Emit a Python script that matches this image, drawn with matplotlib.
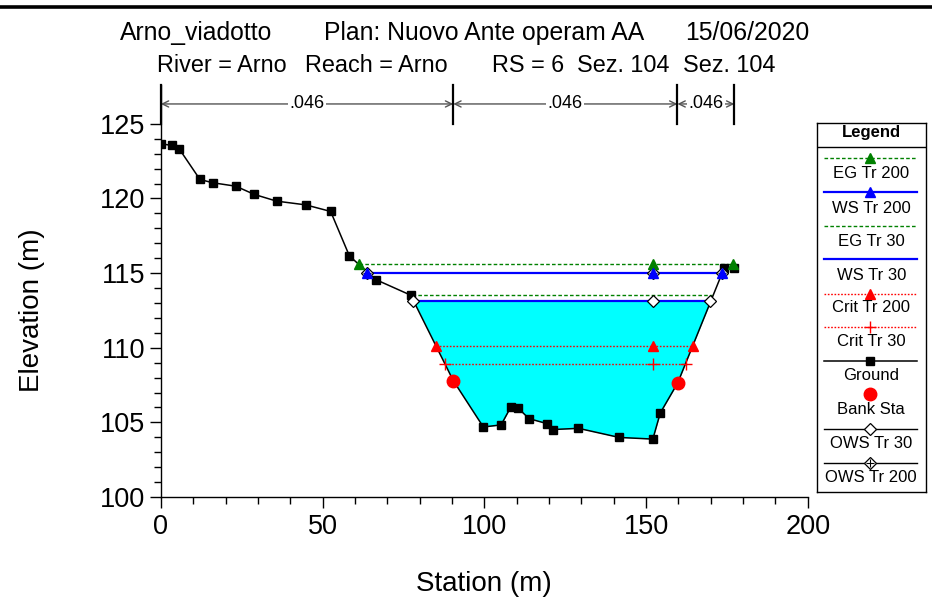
import matplotlib
matplotlib.use('Agg')
import matplotlib.pyplot as plt
from matplotlib.lines import Line2D
import numpy as np

plt.rcParams['font.family'] = ['Liberation Sans', 'DejaVu Sans']

# ---------------- data ----------------
ground_sta = [0.0, 3.55, 5.7, 12.1, 16.1, 23.2, 28.9, 35.8, 44.8, 52.5, 58.3, 66.4,
              77.25, 90.4, 99.7, 105.2, 108.2, 110.3, 113.8, 119.3, 121.3, 129.1,
              141.7, 152.1, 154.4, 159.8, 174.1, 177.3]
ground_elev = [123.66, 123.55, 123.32, 121.27, 121.05, 120.82, 120.27, 119.82, 119.57,
               119.13, 116.15, 114.57, 113.52, 107.8, 104.69, 104.83, 106.03, 105.99,
               105.25, 104.92, 104.52, 104.6, 103.99, 103.88, 105.63, 107.65, 115.31, 115.33]
bank_sta = [90.4, 159.8]
bank_elev = [107.8, 107.65]

eg200_sta = [61.4, 152.1, 177.0]
eg200_elev = 115.58
ws200_sta = [63.8, 152.1, 173.5]
ws200_elev = 115.01
eg30_sta = [77.6, 170.5]
eg30_elev = 113.54
ws30_sta = [78.1, 152.1, 169.9]
ws30_elev = 113.12
crit200_sta = [85.0, 152.1, 164.5]
crit200_elev = 110.12
crit30_sta = [87.7, 152.1, 162.2]
crit30_elev = 108.94

n_sta = [0.0, 90.4, 159.7, 177.3]
n_vals = ['.046', '.046', '.046']

title_line1 = ['Arno_viadotto', 'Plan: Nuovo Ante operam AA', '15/06/2020']
title_line2 = ['River = Arno', 'Reach = Arno', 'RS = 6', 'Sez. 104', 'Sez. 104']

# ---------------- styles ----------------
GREEN = '#008000'
BLUE = '#0000ff'
RED = '#ff0000'
CYAN = '#00ffff'
EG_LS = (0, (2.6, 1.6))
CR_LS = (0, (1.2, 1.2))

styles = {
    'EG Tr 200': dict(color=GREEN, ls=EG_LS, lw=1.0, marker='^', ms=6.5, mfc=GREEN, mec=GREEN),
    'WS Tr 200': dict(color=BLUE, ls='-', lw=1.6, marker='^', ms=6.5, mfc=BLUE, mec=BLUE),
    'EG Tr 30': dict(color=GREEN, ls=EG_LS, lw=1.0, marker=None),
    'WS Tr 30': dict(color=BLUE, ls='-', lw=1.6, marker=None),
    'Crit Tr 200': dict(color=RED, ls=CR_LS, lw=1.0, marker='^', ms=6.5, mfc=RED, mec=RED),
    'Crit Tr 30': dict(color=RED, ls=CR_LS, lw=1.0, marker='+', ms=8, mew=1.0, mec=RED),
    'Ground': dict(color='black', ls='-', lw=1.1, marker='s', ms=5.8, mfc='black', mec='black'),
    'Bank Sta': dict(color=RED, ls='none', marker='o', ms=9, mfc=RED, mec=RED),
    'OWS Tr 30': dict(color='black', ls='-', lw=1.0, marker='D', ms=6, mfc='white', mec='black', mew=0.9),
    'OWS Tr 200': dict(color='black', ls='-', lw=1.0, marker='D', ms=6, mfc='white', mec='black', mew=0.9),
}

# ---------------- figure ----------------
W, H = 932, 605
fig = plt.figure(figsize=(W / 100, H / 100), dpi=100)
fig.patch.set_facecolor('white')

ax_left, ax_right, ax_bot, ax_top = 160.8, 807.8, 497.0, 85.0
ax = fig.add_axes([ax_left / W, (H - ax_bot) / H, (ax_right - ax_left) / W, (ax_bot - ax_top) / H])
ax.set_xlim(0, 200)
ax.set_ylim(100, 127.6)

# fill of WS Tr 30
gs = np.array(ground_sta)
ge = np.array(ground_elev)
ax.fill_between(gs, ge, ws30_elev, where=ge <= ws30_elev, interpolate=True,
                color=CYAN, lw=0, zorder=1)


def draw_profile(sta, elev, key, z=3):
    st = styles[key]
    xs = [sta[0], sta[-1]]
    ys = [elev, elev]
    ax.plot(xs, ys, color=st['color'], ls=st['ls'], lw=st['lw'], zorder=z)
    if st.get('marker'):
        ax.plot(sta, [elev] * len(sta), ls='none', marker=st['marker'], ms=st['ms'],
                mfc=st.get('mfc', st['color']), mec=st.get('mec', st['color']),
                mew=st.get('mew', 1.0), zorder=z + 4)


draw_profile(eg200_sta, eg200_elev, 'EG Tr 200')
draw_profile(eg30_sta, eg30_elev, 'EG Tr 30')
draw_profile(crit200_sta, crit200_elev, 'Crit Tr 200')
draw_profile(crit30_sta, crit30_elev, 'Crit Tr 30')

# OWS markers (under WS markers)
ows = styles['OWS Tr 30']
ax.plot(ws30_sta, [ws30_elev] * len(ws30_sta), ls='none', marker='D', ms=ows['ms'],
        mfc='white', mec='black', mew=ows['mew'], zorder=6)
ax.plot(ws200_sta, [ws200_elev] * len(ws200_sta), ls='none', marker='D', ms=ows['ms'],
        mfc='white', mec='black', mew=ows['mew'], zorder=6)
ax.plot(ws200_sta, [ws200_elev] * len(ws200_sta), ls='none', marker='+', ms=ows['ms'],
        mec='black', mew=0.8, zorder=6)

draw_profile(ws200_sta, ws200_elev, 'WS Tr 200')
draw_profile(ws30_sta, ws30_elev, 'WS Tr 30')

g = styles['Ground']
ax.plot(ground_sta, ground_elev, color=g['color'], lw=g['lw'], marker='s', ms=g['ms'],
        mfc='black', mec='black', zorder=5)
b = styles['Bank Sta']
ax.plot(bank_sta, bank_elev, ls='none', marker='o', ms=b['ms'], mfc=RED, mec=RED, zorder=9)

# Manning's n bars
n_bar_bottom, n_bar_top, n_arrow_y = 124.98, 127.6, 126.33
for s in n_sta:
    ax.plot([s, s], [n_bar_bottom, n_bar_top], color='black', lw=1.6, zorder=4, clip_on=False)
for i, v in enumerate(n_vals):
    x0, x1 = n_sta[i], n_sta[i + 1]
    ax.annotate('', xy=(x0, n_arrow_y), xytext=(x1, n_arrow_y),
                arrowprops=dict(arrowstyle='<->,head_length=0.45,head_width=0.22',
                                color='#555555', lw=1.0, shrinkA=0, shrinkB=0),
                zorder=3, annotation_clip=False)
    ax.text((x0 + x1) / 2, n_arrow_y, v, ha='center', va='center', fontsize=13,
            color='black', zorder=5,
            bbox=dict(boxstyle='square,pad=0.08', fc='white', ec='none'))

# axes styling
for sp in ['top', 'right']:
    ax.spines[sp].set_visible(False)
for sp in ['left', 'bottom']:
    ax.spines[sp].set_linewidth(1.0)
ax.set_xticks(np.arange(0, 201, 50))
ax.set_xticks(np.arange(0, 201, 10), minor=True)
ax.set_yticks(np.arange(100, 126, 5))
ax.set_yticks(np.arange(100, 126, 1), minor=True)
ax.tick_params(which='major', direction='out', length=8, width=1.0, labelsize=19.5, pad=3)
ax.tick_params(which='minor', direction='out', length=5, width=1.0)
ax.tick_params(axis='x', which='major', pad=4)

ax.set_xlabel('Station (m)', fontsize=20)
ax.set_ylabel('Elevation (m)', fontsize=20)
ax.xaxis.set_label_coords(0.5, (ax_bot - 584) / (ax_bot - ax_top))
ax.xaxis.label.set_verticalalignment('center')
ax.yaxis.set_label_coords((32 - ax_left) / (ax_right - ax_left), (ax_bot - 310) / (ax_bot - ax_top))
ax.yaxis.label.set_verticalalignment('center')

# titles
t1_x = [120, 324, 685]
t2_x = [157, 305, 492, 577, 683]
for s, x in zip(title_line1, t1_x):
    fig.text(x / W, 1 - 40 / H, s, fontsize=17.8, ha='left', va='baseline')
for s, x in zip(title_line2, t2_x):
    fig.text(x / W, 1 - 72.5 / H, s, fontsize=16.8, ha='left', va='baseline')

# top border line
fig.add_artist(Line2D([0, 1], [1 - 6.5 / H] * 2, transform=fig.transFigure,
                      color='black', lw=2.6))

# ---------------- legend ----------------
L_left, L_right, L_top, L_bot = 816.5, 926.0, 123.0, 492.0
lax = fig.add_axes([L_left / W, (H - L_bot) / H, (L_right - L_left) / W, (L_bot - L_top) / H])
lw_, lh_ = L_right - L_left, L_bot - L_top
lax.set_xlim(0, lw_)
lax.set_ylim(lh_, 0)
lax.set_xticks([])
lax.set_yticks([])
for sp in lax.spines.values():
    sp.set_linewidth(1.0)
lax.text(lw_ / 2, 133 - L_top, 'Legend', ha='center', va='center', fontsize=12, fontweight='bold')
lax.plot([0, lw_], [147 - L_top] * 2, color='black', lw=1.0)

legend_keys = ['EG Tr 200', 'WS Tr 200', 'EG Tr 30', 'WS Tr 30', 'Crit Tr 200',
               'Crit Tr 30', 'Ground', 'Bank Sta', 'OWS Tr 30', 'OWS Tr 200']
line_y = [157.7, 192.3, 225.7, 259.3, 294.0, 327.0, 361.0, 394.0, 428.7, 462.7]
text_y = [174.0, 208.7, 241.0, 275.7, 308.0, 342.0, 376.0, 410.0, 444.0, 477.7]
lx0, lx1, lxm = 824 - L_left, 917 - L_left, 870 - L_left
for key, ly, ty in zip(legend_keys, line_y, text_y):
    st = styles[key]
    ly -= L_top
    ty -= L_top
    if st['ls'] != 'none':
        lax.plot([lx0, lx1], [ly, ly], color=st['color'], ls=st['ls'], lw=st['lw'])
    if st.get('marker'):
        lax.plot([lxm], [ly], ls='none', marker=st['marker'], ms=st['ms'],
                 mfc=st.get('mfc', st['color']), mec=st.get('mec', st['color']),
                 mew=st.get('mew', 1.0))
    if key == 'OWS Tr 200':
        lax.plot([lxm], [ly], ls='none', marker='+', ms=st['ms'], mec='black', mew=0.8)
    lax.text(lw_ / 2, ty, key, ha='center', va='center', fontsize=12)

fig.savefig('out.png', dpi=100)
